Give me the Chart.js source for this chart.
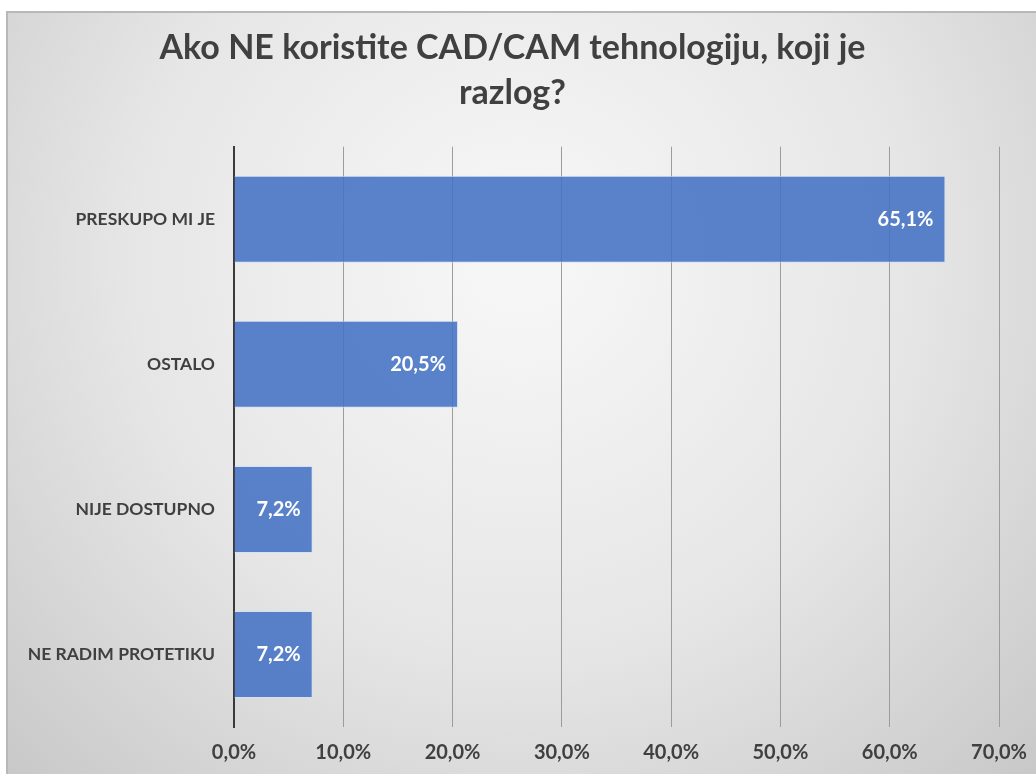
<!DOCTYPE html>
<html>
<head>
<meta charset="utf-8">
<script src="https://cdn.jsdelivr.net/npm/chart.js@4"></script>
<style>
  html, body { margin: 0; padding: 0; background: #ffffff; }
  #wrap { width: 1036px; height: 774px; }
</style>
</head>
<body>
<div id="wrap"><canvas id="reasonsChart" width="1036" height="774"></canvas></div>
<script>
// chart data
const categories = ['PRESKUPO MI JE', 'OSTALO', 'NIJE DOSTUPNO', 'NE RADIM PROTETIKU'];
const shares = [65.1, 20.5, 7.2, 7.2];
const titleLines = ['Ako NE koristite CAD/CAM tehnologiju, koji je', 'razlog?'];

const fmt = v => v.toFixed(1).replace('.', ',') + '%';

// background with soft radial shading and thin frame at top/left
const backdrop = {
  id: 'backdrop',
  beforeDraw(chart) {
    const ctx = chart.ctx;
    ctx.save();
    ctx.fillStyle = '#ffffff';
    ctx.fillRect(0, 0, chart.width, chart.height);
    const g = ctx.createRadialGradient(520, 260, 40, 520, 260, 820);
    g.addColorStop(0, '#f6f6f6');
    g.addColorStop(0.45, '#e6e6e6');
    g.addColorStop(1, '#c0c0c0');
    ctx.fillStyle = g;
    ctx.fillRect(7, 12, chart.width - 7, chart.height - 12);
    ctx.strokeStyle = '#b8b8b8';
    ctx.lineWidth = 2;
    ctx.beginPath();
    ctx.moveTo(7, chart.height);
    ctx.lineTo(7, 12);
    ctx.lineTo(chart.width, 12);
    ctx.stroke();
    ctx.restore();
  }
};

// white value labels at the inner end of each bar
const barValues = {
  id: 'barValues',
  afterDatasetsDraw(chart) {
    const ctx = chart.ctx;
    const meta = chart.getDatasetMeta(0);
    ctx.save();
    ctx.font = 'bold 20px Lato, "Open Sans", sans-serif';
    ctx.fillStyle = '#ffffff';
    ctx.textAlign = 'right';
    ctx.textBaseline = 'middle';
    meta.data.forEach((bar, i) => {
      ctx.fillText(fmt(shares[i]), bar.x - 12, bar.y);
    });
    ctx.restore();
  }
};

const ctx = document.getElementById('reasonsChart').getContext('2d');
new Chart(ctx, {
  type: 'bar',
  data: {
    labels: categories,
    datasets: [{
      data: shares,
      backgroundColor: 'rgba(68, 114, 196, 0.88)',
      borderColor: 'rgba(210, 225, 245, 0.9)',
      borderWidth: 1,
      borderSkipped: 'start',
      barPercentage: 0.6,
      categoryPercentage: 1.0
    }]
  },
  options: {
    indexAxis: 'y',
    responsive: false,
    animation: false,
    layout: { padding: { left: 7, right: 18, top: 0, bottom: 0 } },
    plugins: {
      legend: { display: false },
      tooltip: { enabled: false },
      title: {
        display: true,
        text: titleLines,
        color: '#404040',
        font: { family: 'Lato, "Open Sans", sans-serif', size: 34, weight: 'bold', lineHeight: 1.32 },
        padding: { top: 26, bottom: 31 }
      }
    },
    scales: {
      x: {
        min: 0,
        max: 70,
        ticks: {
          stepSize: 10,
          color: '#404040',
          padding: 14,
          font: { family: 'Lato, "Open Sans", sans-serif', size: 20, weight: 'bold' },
          callback: v => fmt(v)
        },
        grid: { color: '#9c9c9c', lineWidth: 1, drawTicks: false },
        border: { display: false },
        afterFit: s => { s.height = 47; s.paddingLeft = 0; s.paddingRight = 37; }
      },
      y: {
        ticks: {
          color: '#404040',
          padding: 19,
          font: { family: 'Lato, "Open Sans", sans-serif', size: 17.5, weight: 'bold' }
        },
        grid: { display: false, drawTicks: false },
        border: { display: true, color: '#3a3a3a', width: 2 },
        afterFit: s => { s.width = 227; }
      }
    }
  },
  plugins: [backdrop, barValues]
});
</script>
</body>
</html>
